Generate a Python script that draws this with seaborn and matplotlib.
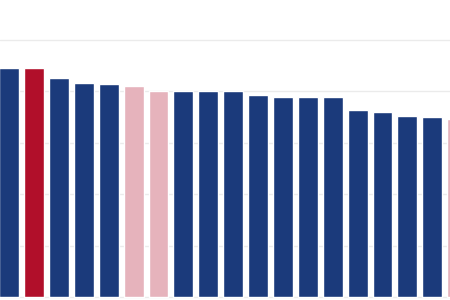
import matplotlib
matplotlib.use("Agg")
import matplotlib.pyplot as plt
import seaborn as sns
import pandas as pd

categories = [f"C{i+1}" for i in range(19)]
values = [89.0, 89.0, 85.1, 83.4, 82.9, 82.2, 80.0, 80.0, 80.0, 80.0,
          78.6, 77.9, 77.9, 77.9, 72.8, 72.1, 70.4, 70.2, 69.3]
groups = ["blue", "red", "blue", "blue", "blue", "pink", "pink", "blue", "blue", "blue",
          "blue", "blue", "blue", "blue", "blue", "blue", "blue", "blue", "pink"]
color_map = {"blue": "#1B3A7B", "red": "#B10F2A", "pink": "#E6B3BC"}
yticks = [0, 20, 40, 60, 80, 100]

df = pd.DataFrame({"category": categories, "value": values, "group": groups})

sns.set_theme(style="white")
fig = plt.figure(figsize=(4.5, 3.0), dpi=100)
ax = fig.add_axes([0, 0, 1, 1])
sns.barplot(data=df, x="category", y="value", hue="category",
            palette=[color_map[g] for g in groups], legend=False,
            width=0.8, saturation=1, ax=ax, zorder=3)

ax.set_xlim(-0.365, 17.71)
ax.set_ylim(-1.17, 115.6)
ax.set_yticks(yticks)
ax.yaxis.grid(True, color="#EBEBEB", linewidth=1)
ax.set_axisbelow(True)
for s in ax.spines.values():
    s.set_visible(False)
ax.tick_params(left=False, bottom=False, labelleft=False, labelbottom=False)
ax.set_xlabel("")
ax.set_ylabel("")
fig.savefig("out.png", dpi=100)
